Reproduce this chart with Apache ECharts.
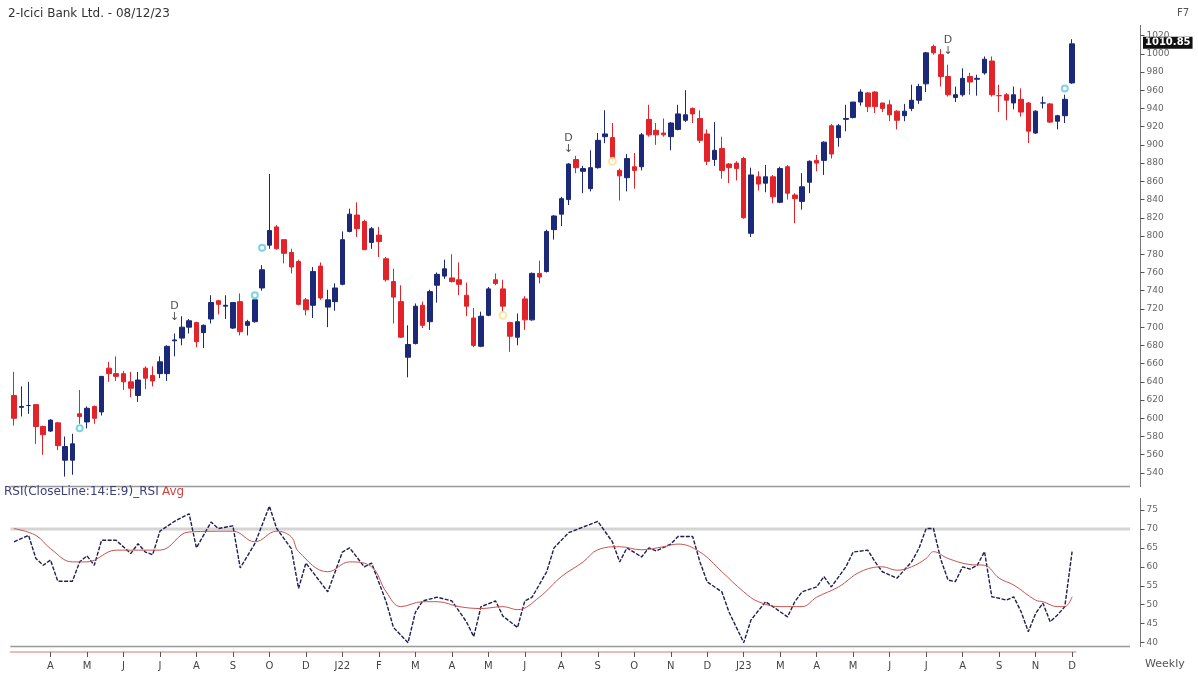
<!DOCTYPE html>
<html>
<head>
<meta charset="utf-8">
<script src="https://cdn.jsdelivr.net/npm/echarts@6/dist/echarts.min.js"></script>
<style>
  html, body { margin: 0; padding: 0; background: #fff; }
  #chart { width: 1198px; height: 675px; }
</style>
</head>
<body>
<div id="chart"></div>
<script>
// weekly candles, [open, close, low, high]
const candles = [
  [625, 600, 592, 651], [612, 613, 602, 635], [614, 614, 605, 640], [615, 591, 572, 615],
  [591, 582, 560, 592], [586, 598, 585, 599], [595, 570, 565, 596], [554, 569, 536, 580],
  [554, 572, 538, 583], [605, 602, 594, 631], [596, 611, 589, 613], [613, 600, 594, 614],
  [607, 646, 603, 646], [655, 649, 640, 662], [649, 646, 641, 668], [649, 640, 631, 652],
  [640, 633, 623, 651], [625, 642, 618, 651], [655, 644, 632, 657], [647, 641, 635, 657],
  [649, 662, 644, 668], [649, 679, 641, 680], [685, 686, 668, 693], [688, 700, 680, 712],
  [700, 707, 693, 709], [705, 684, 678, 706], [694, 702, 677, 703], [709, 727, 704, 735],
  [729, 725, 714, 730], [723, 724, 709, 735], [699, 727, 698, 727], [728, 695, 691, 737],
  [702, 706, 691, 708], [706, 730, 705, 730], [743, 763, 740, 768], [790, 806, 786, 868],
  [810, 786, 785, 812], [796, 781, 770, 796], [782, 766, 759, 786], [772, 725, 724, 774],
  [730, 719, 713, 732], [724, 761, 710, 766], [767, 732, 730, 771], [722, 730, 700, 741],
  [728, 743, 718, 748], [747, 796, 746, 805], [805, 824, 804, 830], [823, 808, 799, 837],
  [816, 785, 785, 818], [793, 808, 786, 810], [801, 794, 777, 810], [775, 752, 750, 777],
  [750, 733, 704, 764], [728, 689, 688, 746], [667, 681, 645, 702], [682, 723, 681, 726],
  [724, 702, 699, 728], [706, 739, 697, 741], [746, 758, 727, 760], [756, 764, 753, 774],
  [754, 750, 749, 780], [752, 747, 735, 771], [735, 723, 712, 749], [710, 680, 678, 721],
  [679, 712, 678, 717], [713, 742, 712, 744], [752, 748, 746, 759], [742, 723, 716, 752],
  [705, 690, 673, 706], [689, 706, 680, 715], [731, 708, 697, 734], [708, 759, 707, 760],
  [759, 755, 748, 773], [761, 805, 760, 807], [807, 822, 796, 823], [824, 841, 811, 843],
  [840, 879, 834, 880], [884, 875, 869, 888], [871, 874, 847, 877], [852, 875, 849, 894],
  [875, 905, 874, 913], [909, 912, 902, 938], [908, 885, 882, 924], [872, 866, 839, 874],
  [864, 885, 849, 890], [876, 872, 852, 891], [876, 911, 872, 913], [928, 911, 909, 944],
  [916, 911, 900, 924], [913, 911, 909, 929], [909, 924, 894, 925], [917, 934, 916, 944],
  [927, 933, 925, 960], [940, 934, 924, 941], [929, 905, 902, 938], [912, 882, 878, 917],
  [884, 894, 877, 925], [896, 872, 863, 909], [879, 875, 858, 880], [880, 874, 861, 882],
  [885, 820, 819, 887], [803, 867, 799, 875], [865, 857, 850, 871], [858, 865, 848, 878],
  [865, 843, 836, 867], [837, 874, 836, 876], [876, 847, 840, 878], [845, 841, 814, 847],
  [838, 854, 829, 869], [859, 882, 847, 883], [883, 880, 871, 889], [883, 903, 867, 904],
  [921, 890, 885, 923], [908, 921, 898, 923], [928, 929, 915, 944], [930, 947, 929, 947],
  [947, 958, 943, 961], [957, 942, 936, 958], [958, 942, 935, 959], [946, 940, 936, 946],
  [944, 933, 926, 949], [937, 927, 917, 938], [932, 937, 926, 945], [940, 949, 937, 966],
  [949, 964, 945, 967], [967, 1001, 958, 1002], [1008, 1001, 999, 1010], [999, 975, 964, 1005],
  [975, 955, 953, 988], [952, 955, 947, 964], [955, 973, 953, 984], [975, 969, 955, 979],
  [972, 973, 954, 977], [979, 994, 977, 997], [992, 955, 953, 997], [954, 954, 936, 966],
  [955, 949, 927, 957], [946, 955, 939, 964], [950, 936, 931, 962], [946, 915, 902, 947],
  [913, 937, 912, 938], [946, 946, 940, 953], [945, 925, 924, 946], [926, 932, 917, 933],
  [932, 950, 924, 955], [968, 1010.85, 967, 1016]
];
const lastClose = 1010.85;

// RSI(14), [week index, value]
const rsi = [
  [0, 66.6], [2, 68.3], [3, 62.2], [4, 60.4], [5, 61.8], [6, 56.2], [8, 56.2], [9, 61.3],
  [10, 62.9], [11, 60.4], [12, 67], [14, 67], [16, 63.5], [17, 66.1], [18, 63.9], [19, 63.2],
  [20, 69.4], [22, 72], [24, 74], [25, 65], [27, 71.8], [28, 70.1], [30, 70.8], [31, 59.7],
  [33, 66.1], [35, 76], [36, 70.1], [38, 64.8], [39, 54.3], [40, 61], [43, 53.4], [45, 63.9],
  [46, 65], [47, 62.5], [48, 60], [49, 61], [51, 50.8], [52, 44], [54, 40], [55, 48],
  [56, 51], [58, 52], [60, 51], [62, 45.5], [63, 41.6], [64, 49.5], [66, 51], [67, 47],
  [69, 44], [70, 51], [71, 52], [73, 58.7], [74, 65], [76, 69], [78, 70.5], [80, 72],
  [82, 66.6], [83, 61.3], [84, 65], [86, 62.6], [87, 65], [88, 64.2], [90, 66], [91, 68],
  [93, 68], [94, 61.3], [95, 56], [97, 53.4], [98, 48], [100, 40], [101, 46], [103, 50.8],
  [104, 49.5], [106, 46.8], [107, 50.8], [108, 53.4], [110, 54.7], [111, 57.4], [112, 54.7],
  [114, 60], [115, 63.9], [117, 64.4], [118, 61.3], [119, 58.7], [121, 57], [123, 61.3],
  [124, 64.8], [125, 70.1], [126, 70.1], [127, 62], [128, 56.5], [129, 56.1], [130, 60],
  [131, 59.4], [132, 60.4], [133, 64], [134, 52.1], [135, 51.7], [136, 51.2], [137, 52.1],
  [138, 48.2], [139, 42.9], [140, 47.7], [141, 50.4], [142, 45.5], [143, 47.3], [144, 49.5],
  [145, 64]
];

// RSI average (E:9)
const rsiAvg = [
  [0, 70.1], [3, 68.3], [5, 64.8], [8, 61.3], [10, 61.3], [14, 64.4], [20, 64.4], [24, 69.2],
  [30, 69.4], [33, 66.6], [36, 69.4], [38, 67.9], [39, 64], [43, 58.7], [46, 61.3], [49, 60],
  [51, 53.4], [53, 49.5], [56, 50.8], [58, 50.8], [61, 49.5], [64, 49], [67, 49.5], [69, 48.7],
  [72, 52], [75, 57.4], [78, 61.3], [80, 64.5], [83, 65.3], [86, 64.5], [89, 65.3], [91, 66],
  [94, 63.9], [97, 58.7], [100, 53.4], [102, 50.8], [105, 49.5], [108, 49.5], [110, 52],
  [113, 54.7], [116, 58.7], [119, 60], [121, 59.1], [123, 60], [125, 62.2], [126, 64],
  [128, 62.2], [131, 60.6], [133, 60.4], [135, 57], [137, 55.2], [140, 51.2], [141, 50.8],
  [143, 49.5], [144, 49.5], [145, 52.1]
];

// x-axis labels, one every five weeks
const tickIdx = [5, 10, 15, 20, 25, 30, 35, 40, 45, 50, 55, 60, 65, 70, 75,
  80, 85, 90, 95, 100, 105, 110, 115, 120, 125, 130, 135, 140, 145];
const tickText = ['A', 'M', 'J', 'J', 'A', 'S', 'O', 'D', 'J22', 'F', 'M', 'A', 'M', 'J', 'A',
  'S', 'O', 'N', 'D', 'J23', 'M', 'A', 'M', 'J', 'J', 'A', 'S', 'N', 'D'];

// pattern markers on the price panel, [week index, price]
const cyanDots = [[9, 589], [33, 735], [34, 787], [144, 962]];
const yellowDots = [[67, 713], [82, 882]];
const dSignals = [[22, 705], [76, 889], [128, 997]];

const categories = candles.map((_, i) => String(i));
const labelAt = {};
tickIdx.forEach((k, n) => { labelAt[k] = tickText[n] });
const isTick = (i) => labelAt[i] !== undefined

const UP = '#1c2878'
const DOWN = '#e2232a'
const FONT = 'DejaVu Sans'

const gLeft = 10.35
const gWidth = 1065.4
const axisX = 1140.5

const chart = echarts.init(document.getElementById('chart'))
chart.setOption({
  animation: false,
  backgroundColor: '#fff',
  textStyle: { fontFamily: FONT },
  title: {
    text: '2-Icici Bank Ltd. - 08/12/23',
    left: 3, top: 3,
    textStyle: { fontSize: 12, fontWeight: 'normal', color: '#333', fontFamily: FONT }
  },
  grid: [
    { left: gLeft, width: gWidth, top: 17.3, height: 473.9 },
    { left: gLeft, width: gWidth, top: 491, height: 170.6 },
    { left: gLeft, width: gWidth, top: 600, height: 52 }
  ],
  xAxis: [
    { type: 'category', gridIndex: 0, data: categories, show: false },
    { type: 'category', gridIndex: 1, data: categories, show: false },
    {
      type: 'category', gridIndex: 2, data: categories,
      axisLine: { show: true, lineStyle: { color: '#e8a3a3', width: 1.5 } },
      axisTick: {
        show: true, inside: false, alignWithLabel: true, length: 5,
        interval: isTick,
        lineStyle: { color: '#555', width: 1 }
      },
      axisLabel: {
        interval: isTick,
        formatter: (v, i) => labelAt[i] || '',
        fontSize: 10, color: '#444', margin: 9
      }
    }
  ],
  yAxis: [
    {
      type: 'value', gridIndex: 0, position: 'right', offset: axisX - gLeft - gWidth,
      min: 520, max: 1040, interval: 20,
      axisLine: { show: false },
      axisTick: { show: true, length: 4, lineStyle: { color: '#555' } },
      axisLabel: {
        showMinLabel: false, showMaxLabel: false, fontSize: 9, color: '#666', margin: 6,
        formatter: (v) => String(v)
      },
      splitLine: { show: false }
    },
    {
      type: 'value', gridIndex: 1, position: 'right', offset: axisX - gLeft - gWidth,
      min: 35, max: 80, interval: 5,
      axisLine: { show: false },
      axisTick: { show: true, length: 4, lineStyle: { color: '#555' } },
      axisLabel: {
        showMinLabel: false, showMaxLabel: false, fontSize: 9, color: '#666', margin: 6,
        formatter: (v) => String(v)
      },
      splitLine: { show: false }
    },
    { type: 'value', gridIndex: 2, show: false }
  ],
  series: [
    {
      type: 'candlestick', xAxisIndex: 0, yAxisIndex: 0,
      data: candles,
      barWidth: 5,
      itemStyle: { color: UP, color0: DOWN, borderColor: UP, borderColor0: DOWN, borderWidth: 1 }
    },
    {
      type: 'scatter', xAxisIndex: 0, yAxisIndex: 0, data: cyanDots,
      symbol: 'emptyCircle', symbolSize: 6,
      itemStyle: { color: '#5cc9dc', borderColor: '#5cc9dc', borderWidth: 1.2 }
    },
    {
      type: 'scatter', xAxisIndex: 0, yAxisIndex: 0, data: yellowDots,
      symbol: 'emptyCircle', symbolSize: 7,
      itemStyle: { color: '#f3e48a', borderColor: '#f3e48a', borderWidth: 1.2 }
    },
    {
      type: 'scatter', xAxisIndex: 0, yAxisIndex: 0, data: dSignals,
      symbolSize: 0,
      label: {
        show: true, position: 'top', distance: 0,
        formatter: 'D\n↓', color: '#222', fontSize: 11, lineHeight: 11, fontFamily: FONT
      }
    },
    {
      type: 'line', xAxisIndex: 1, yAxisIndex: 1, data: rsi,
      symbol: 'none',
      lineStyle: { color: '#1d1f4f', width: 1.4, type: [4, 1.5] }
    },
    {
      type: 'line', xAxisIndex: 1, yAxisIndex: 1, data: rsiAvg,
      symbol: 'none', smooth: 0.4,
      lineStyle: { color: '#c9544f', width: 1 }
    }
  ]
})

const y70 = chart.convertToPixel({ yAxisIndex: 1 }, 70)
const yLast = chart.convertToPixel({ yAxisIndex: 0 }, lastClose)
const hline = (y, color, w, x2) => ({
  type: 'line', shape: { x1: gLeft, y1: y, x2: x2, y2: y },
  style: { stroke: color, lineWidth: w }, silent: true
})

chart.setOption({
  graphic: [
    hline(y70, '#d4d4d4', 3, 1130),
    hline(486.5, '#999', 1.5, 1130),
    hline(646.5, '#999', 1.5, 1130),
    { type: 'line', shape: { x1: axisX, y1: 25, x2: axisX, y2: 487 }, style: { stroke: '#777', lineWidth: 1 } },
    { type: 'line', shape: { x1: axisX, y1: 498, x2: axisX, y2: 647 }, style: { stroke: '#777', lineWidth: 1 } },
    {
      type: 'text', left: 1177, top: 8,
      style: { text: 'F7', fontSize: 10, fill: '#555', fontFamily: FONT }
    },
    {
      type: 'text', left: 4, top: 486,
      style: {
        text: '{a|RSI(CloseLine:14:E:9)_RSI} {b|Avg}',
        rich: {
          a: { fontSize: 12, fill: '#3c3f78', fontFamily: FONT },
          b: { fontSize: 12, fill: '#d2433f', fontFamily: FONT }
        }
      }
    },
    {
      type: 'text', left: 1145, top: 659,
      style: { text: 'Weekly', fontSize: 11, fill: '#555', fontFamily: FONT }
    },
    {
      type: 'text', left: 1143, top: yLast - 7,
      style: {
        text: '1010.85', fontSize: 10, fontWeight: 'bold', fill: '#fff',
        backgroundColor: '#111', padding: [1, 2, 1, 2], fontFamily: FONT
      }
    }
  ]
})
</script>
</body>
</html>
